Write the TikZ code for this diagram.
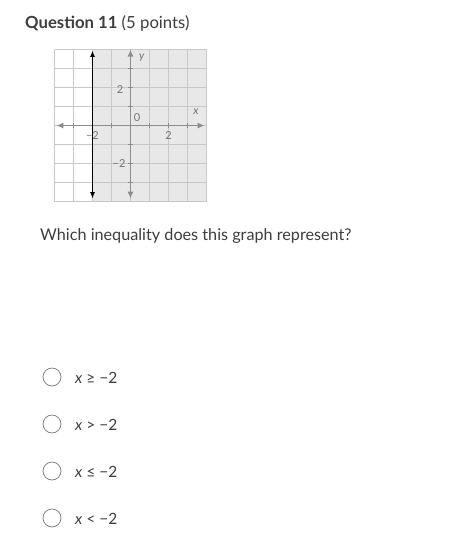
\documentclass[tikz,border=0pt]{standalone}
\usepackage{fontspec}
\setmainfont{Lato}
\usetikzlibrary{arrows.meta}
\definecolor{txt}{RGB}{62,62,62}
\definecolor{shadec}{RGB}{232,232,232}
\definecolor{gridc}{RGB}{200,200,200}
\definecolor{axisc}{RGB}{140,140,140}
\definecolor{labc}{RGB}{115,115,115}
\definecolor{ringc}{RGB}{120,120,120}
\tikzset{
  axis/.style={axisc,line width=1.3pt,{Latex[length=7pt,width=6pt]}-{Latex[length=7pt,width=6pt]}},
  bound/.style={black,line width=1.2pt,{Latex[length=6.5pt,width=5pt]}-{Latex[length=6.5pt,width=5pt]}},
  lab/.style={text=labc,font=\fontsize{11}{13}\selectfont,inner sep=0pt},
  choice/.style={anchor=base west,text=txt,font=\fontsize{15.5}{18}\selectfont,inner sep=0pt}
}
\begin{document}
\begin{tikzpicture}[x=1pt,y=-1pt]
\useasboundingbox[fill=white] (0,0) rectangle (455,542);

\node[anchor=base west,text=txt,font=\fontsize{16.7}{20}\selectfont,inner sep=0pt] (title) at (25,28) {\textbf{Question 11} (5 points)};

\begin{scope}[shift={(130.5,125.5)},x=19pt,y=19pt]
\fill[shadec] (-2,-4) rectangle (4,4);
\draw[gridc,line width=0.6pt,step=1] (-4,-4) grid (4,4);

\draw[axis] (-3.9,0) -- (3.9,0);
\draw[axis] (0,-3.85) -- (0,4);
\foreach \t in {-3,-2,-1,1,2,3} {
  \draw[axisc,line width=0.6pt] (\t,-0.12) -- (\t,0.12);
  \draw[axisc,line width=0.6pt] (-0.12,\t) -- (0.12,\t);
}

\draw[bound] (-2,-3.85) -- (-2,3.95);

\foreach \p/\name/\txt in {{(0.6,3.55)/ylab/\textit{y}},{(3.45,0.7)/xlab/\textit{x}},{(0.35,0.4)/zero/0},{(-0.55,1.9)/ytwo/2},{(-0.6,-2)/ymtwo/−2},{(-2,-0.55)/xmtwo/−2},{(2,-0.55)/xtwo/2}}
  \node[lab] (\name) at \p {\txt};
\end{scope}

\node[anchor=base west,text=txt,font=\fontsize{16.2}{19}\selectfont,inner sep=0pt] (ask) at (40,240) {Which inequality does this graph represent?};

\foreach \y/\yt/\name/\txt in {377/383/ge/{\textit{x} ≥ −2},424/430/gt/{\textit{x} > −2},471/477/le/{\textit{x} ≤ −2},518/524/lt/{\textit{x} < −2}} {
  \draw[ringc,line width=0.7pt] (52,\y) circle (9);
  \node[choice] (\name) at (75,\yt) {\txt};
}

\end{tikzpicture}
\end{document}
